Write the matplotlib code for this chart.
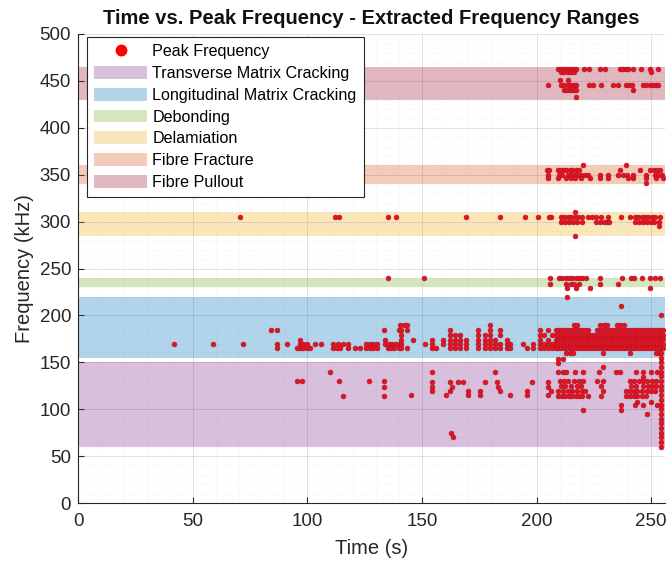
import numpy as np
import matplotlib
matplotlib.use("Agg")
import matplotlib.pyplot as plt
from matplotlib.patches import Patch
from matplotlib.lines import Line2D
from matplotlib.ticker import MultipleLocator

plt.rcParams["font.family"] = ["Liberation Sans", "DejaVu Sans"]

# frequency ranges (kHz) and their colours
band_names = ["Transverse Matrix Cracking", "Longitudinal Matrix Cracking", "Debonding",
              "Delamiation", "Fibre Fracture", "Fibre Pullout"]
band_lo = [60, 155, 230, 285, 340, 430]
band_hi = [150, 220, 240, 310, 360, 465]
band_colors = ["#7e2f8e", "#0072bd", "#77ac30", "#edb120", "#d95319", "#a2142f"]

# peak frequency hits, grouped by where they sit (time s, freq kHz)
pullout_t = [209.5, 210.8, 212.1, 213.4, 214.7, 216.0, 217.3, 220.6, 222.9, 227.6, 229.7, 236.3, 237.6,
             239.0, 239.9, 242.1, 245.7, 249.3, 253.0,
             210.5, 212.0, 213.5, 215.0, 216.5, 249.8,
             210.1, 213.7,
             205.0, 210.5, 212.0, 213.5, 215.0, 216.5, 217.4, 222.9, 224.6, 228.3, 233.4, 235.5, 239.0,
             240.4, 241.8, 246.4, 247.9, 249.3, 250.8, 252.2, 253.0,
             211.8, 213.2, 214.6, 216.0, 217.4, 242.1,
             217.4]
pullout_f = [463] * 19 + [459] * 6 + [451] * 2 + [446] * 21 + [440] * 6 + [433]

fracture_t = [220.3, 238.9,
              204.5, 205.5, 209.4, 210.6, 211.8, 213.0, 214.4, 215.6, 217.0, 218.5, 236.5, 245.0, 249.5,
              251.0, 252.5, 254.0,
              205.0, 209.8, 211.2, 213.6, 215.0, 216.5, 217.8, 219.5, 221.0, 222.5, 227.6, 231.2, 235.5,
              237.5, 239.5, 242.0, 247.9, 251.5, 253.0, 254.5,
              204.8, 209.4, 213.0, 214.8, 216.6, 219.5, 223.2, 227.5, 231.0, 240.0, 242.0, 247.5, 252.0,
              255.0,
              247.9]
fracture_f = [360] * 2 + [355] * 16 + [350] * 20 + [346] * 14 + [341]

delam_t = [70.6, 112.0, 113.8, 135.0, 138.6, 169.4, 184.0, 194.9, 200.7, 205.3, 206.5, 210.8, 212.0,
           213.5, 215.0, 216.7, 218.0, 219.6, 222.5, 224.0, 226.1, 228.3, 231.2, 237.0, 240.6, 242.8,
           244.3, 245.8, 247.3, 248.8, 250.3, 251.8, 253.7,
           216.7,
           210.8, 212.5, 214.3, 216.0, 217.8, 219.6, 226.1, 227.6, 229.2, 230.8, 231.7, 242.8, 244.5,
           246.2, 248.0, 249.7, 251.4, 253.2,
           253.2, 216.7]
delam_f = [305] * 33 + [310] + [300] * 18 + [295, 285]

debond_t = [135.0, 150.8, 205.8, 209.7, 211.2, 212.7, 214.1, 215.6, 217.1, 218.5, 220.0, 221.4, 227.6,
            237.2, 241.0, 242.5, 245.8, 249.3, 251.6, 253.7,
            205.8, 212.9, 215.0, 216.5, 218.5, 227.6, 235.5,
            213.4, 217.1, 223.3, 249.3,
            213.1, 236.6, 254.4]
debond_f = [240] * 20 + [234] * 7 + [229] * 4 + [220, 210, 200]

# longitudinal matrix cracking, sparse part before ~209 s
long_t = [84.1, 86.6, 133.5, 139.9, 140.5, 142.0, 143.5,
          96.8, 133.8,
          42.0, 58.7, 71.8, 86.6, 91.0, 96.8, 98.2, 99.7, 103.3, 105.8, 111.3, 113.5, 115.7, 117.8,
          125.8, 127.3, 128.8, 130.2, 133.8, 135.5, 137.0, 138.7, 140.4,
          86.6, 95.3, 96.8, 98.2, 99.7, 101.2, 111.3, 112.8, 114.3, 117.8, 120.7, 123.2, 125.8, 127.3,
          128.8, 130.2, 135.0, 136.5, 138.0, 140.0]
long_f = [184] * 4 + [190] * 3 + [174] * 2 + [169.5] * 23 + [165] * 20

# clusters 140-209 s, each a time with the stack of frequencies hit
clus_t = [141.0, 141.0, 141.0, 141.0, 141.0, 143.5, 143.5, 146.0,
          151.3, 154.2, 154.2, 154.2, 156.0, 159.2, 159.2,
          162.1, 162.1, 162.1, 162.1, 162.1, 164.3, 164.3, 164.3, 164.3,
          166.5, 166.5, 166.5, 166.5, 169.4, 169.4, 169.4,
          174.5, 174.5, 174.5, 174.5, 174.5, 177.4, 177.4, 177.4, 177.4,
          179.6, 179.6, 179.6, 179.6, 179.6, 179.6, 182.0, 182.0, 182.0, 184.0, 184.0, 184.0, 184.0,
          186.9, 186.9, 186.9, 188.3, 188.3,
          194.1, 196.0, 198.5, 198.5,
          201.4, 201.4, 201.4, 201.4, 201.4, 203.2, 203.2, 203.2, 205.0, 205.0, 205.0, 205.0,
          206.8, 206.8, 206.8, 208.6, 208.6, 208.6, 208.6, 208.6]
clus_f = [184, 179, 174, 169.5, 165, 184, 165, 174,
          169.5, 174, 169.5, 165, 165, 174, 169.5,
          184, 179, 174, 169.5, 165, 179, 174, 169.5, 165,
          179, 174, 169.5, 165, 174, 169.5, 165,
          184, 179, 174, 169.5, 165, 179, 174, 169.5, 165,
          190, 184, 179, 174, 169.5, 165, 174, 169.5, 165, 184, 179, 169.5, 165,
          174, 169.5, 165, 169.5, 165,
          169.5, 165, 169.5, 165,
          184, 179, 174, 169.5, 165, 179, 169.5, 165, 184, 174, 169.5, 165,
          179, 169.5, 165, 184, 179, 174, 169.5, 165]

# dense block after ~209 s, row by row
row190_t = [216.5, 217.5, 227.8, 229.2, 230.5, 235.2, 236.5, 238.0]
row184_t = [209.5, 210.8, 212.1, 213.4, 214.7, 216.0, 217.3, 218.6, 219.9, 221.2, 222.5, 226.4, 227.7,
            229.0, 230.3, 231.6, 232.9, 234.2, 235.5, 236.8, 238.1, 239.4, 240.7, 242.0, 243.3, 244.6,
            245.9, 247.2, 248.5, 249.8, 251.1, 252.4, 253.7, 255.0]
row179_t = [209.5, 210.8, 212.1, 213.4, 214.7, 216.0, 217.3, 218.6, 219.9, 221.2, 222.5, 223.8, 225.1,
            226.4, 227.7, 229.0, 230.3, 231.6, 232.9, 234.2, 235.5, 236.8, 238.1, 239.4, 240.7, 242.0,
            243.3, 244.6, 245.9, 247.2, 248.5, 249.8, 251.1, 252.4, 253.7, 255.0]
row174_t = [209.5, 210.8, 212.1, 213.4, 214.7, 216.0, 217.3, 218.6, 219.9, 221.2, 222.5, 223.8, 225.1,
            226.4, 227.7, 229.0, 230.3, 231.6, 232.9, 234.2, 235.5, 236.8, 238.1, 239.4, 240.7, 242.0,
            243.3, 244.6, 245.9, 247.2, 248.5, 249.8, 251.1, 252.4, 253.7, 255.0]
row169_t = [209.5, 210.8, 212.1, 213.4, 214.7, 216.0, 217.3, 218.6, 219.9, 221.2, 222.5, 223.8, 225.1,
            226.4, 227.7, 229.0, 230.3, 231.6, 232.9, 234.2, 235.5, 236.8, 238.1, 239.4, 240.7, 242.0,
            243.3, 244.6, 245.9, 247.2, 248.5, 249.8, 251.1, 252.4, 253.7, 255.0]
row165_t = [209.5, 210.8, 212.1, 213.4, 214.7, 216.0, 217.3, 218.6, 219.9, 221.2, 222.5, 223.8, 225.1,
            226.4, 227.7, 229.0, 230.3, 231.6, 232.9, 234.2, 235.5, 236.8, 238.1, 239.4, 240.7, 242.0,
            243.3, 244.6, 245.9, 247.2, 248.5, 249.8, 251.1, 252.4, 253.7, 255.0]
row160_t = [213.0, 214.5, 216.0, 229.0, 240.6, 252.0, 253.5]
dense_t = row190_t + row184_t + row179_t + row174_t + row169_t + row165_t + row160_t
dense_f = ([190] * len(row190_t) + [184.5] * len(row184_t) + [179.5] * len(row179_t)
           + [174.5] * len(row174_t) + [169.5] * len(row169_t) + [165] * len(row165_t)
           + [160] * len(row160_t))

# transverse matrix cracking region
trans_t = [109.8, 95.3, 97.5, 113.9, 127.0, 133.5, 133.5, 115.7, 133.5,
           154.3, 154.3, 154.3, 154.3, 145.4, 160.7, 162.1, 162.9, 162.1, 165.7, 167.9, 170.1, 170.1,
           175.2, 175.2, 177.4, 181.8, 182.6, 183.2, 184.0, 188.3, 195.6, 195.6, 197.8,
           205.0, 205.0, 206.5, 205.0, 162.6, 163.6,
           209.3, 211.5, 209.3, 228.9,
           209.3, 211.6, 213.0, 216.7, 220.3, 227.4, 234.6, 236.3, 243.5, 246.4, 250.0, 252.7, 246.3,
           210.0, 212.0, 213.5, 216.5, 218.6, 220.3, 226.4, 228.9, 240.6, 242.5, 244.5, 246.2, 248.3,
           250.5, 252.0,
           210.5, 212.5, 215.0, 217.5, 219.5, 228.3, 241.0, 243.5, 246.3, 248.5, 250.5, 252.0,
           209.3, 211.5, 213.5, 215.5, 217.5, 219.7, 221.0, 228.9, 238.9, 240.6, 242.5, 244.0, 246.1,
           248.0, 250.0, 251.8,
           209.3, 211.0, 212.5, 214.0, 215.5, 217.0, 218.5, 220.0, 222.5, 228.2, 238.9, 240.6, 242.3,
           244.0, 246.0, 247.5,
           244.0, 250.0, 236.7, 243.0, 246.5, 252.5, 220.4, 236.7, 248.0]
trans_f = [140, 130, 130, 130, 130, 130, 124, 114, 114,
           140, 129.3, 124, 119.8, 115, 115, 119.8, 124, 129.3, 129.3, 129.3, 119.8, 115,
           119.8, 115, 129.3, 140, 129.3, 124, 119.8, 115, 119.8, 115, 129.3,
           129.3, 124, 119.8, 115, 74.3, 70,
           154, 154, 149, 145,
           140, 140, 140, 140, 140, 140, 140, 140, 140, 140, 140, 140, 134.6,
           130, 130, 130, 130, 130, 130, 130, 130, 130, 130, 130, 130, 130, 130, 130,
           124.7, 124.7, 124.7, 124.7, 124.7, 124.7, 124.7, 124.7, 124.7, 124.7, 124.7, 124.7,
           119.8, 119.8, 119.8, 119.8, 119.8, 119.8, 119.8, 119.8, 119.8, 119.8, 119.8, 119.8, 119.8,
           119.8, 119.8, 119.8,
           114.4, 114.4, 114.4, 114.4, 114.4, 114.4, 114.4, 114.4, 114.4, 114.4, 114.4, 114.4, 114.4,
           114.4, 114.4, 114.4,
           108, 108, 104, 104, 104, 104, 99.6, 99.6, 94.6]

# last column at the end of the test
end_f = [160, 155, 150, 145, 140, 135, 130, 125, 120, 115, 110, 105, 100, 95, 90, 85, 80, 75, 70, 65, 60]
end_t = [254.4] * len(end_f)

all_t = pullout_t + fracture_t + delam_t + debond_t + long_t + clus_t + dense_t + trans_t + end_t
all_f = pullout_f + fracture_f + delam_f + debond_f + long_f + clus_f + dense_f + trans_f + end_f

fig = plt.figure(figsize=(6.68, 5.61), dpi=100)
ax = fig.add_axes([78/668, 58/561, 587/668, 469/561])

for lo, hi, c in zip(band_lo, band_hi, band_colors):
    ax.axhspan(lo, hi, color=c, alpha=0.3, lw=0, zorder=1)

ax.plot(all_t, all_f, "o", ms=3.5, mfc="#e4141e", mec="#b01028", mew=0.4, zorder=3)

ax.set_xlim(0, 256)
ax.set_ylim(0, 500)
ax.xaxis.set_major_locator(MultipleLocator(50))
ax.yaxis.set_major_locator(MultipleLocator(50))
ax.xaxis.set_minor_locator(MultipleLocator(10))
ax.yaxis.set_minor_locator(MultipleLocator(10))
ax.set_axisbelow(True)
ax.grid(which="major", color="#dadada", lw=0.6)
ax.grid(which="minor", color="#ebebeb", lw=0.5, ls=":")
ax.tick_params(which="major", direction="in", length=4, labelsize=13.5, colors="#262626")
ax.tick_params(axis="x", pad=7)
ax.tick_params(axis="y", pad=5)
ax.tick_params(which="minor", length=0)
for s in ["top", "right"]:
    ax.spines[s].set_visible(False)
for s in ["left", "bottom"]:
    ax.spines[s].set_color("#262626")
    ax.spines[s].set_linewidth(0.8)

ax.set_xlabel("Time (s)", fontsize=14.5, color="#262626", labelpad=7)
ax.set_ylabel("Frequency (kHz)", fontsize=14.5, color="#262626", labelpad=4)
ax.set_title("Time vs. Peak Frequency - Extracted Frequency Ranges", fontsize=14.5,
             fontweight="bold", color="#111111", pad=7)

handles = [Line2D([], [], ls="", marker="o", ms=7.5, mfc="red", mec="red", label="Peak Frequency")]
for n, c in zip(band_names, band_colors):
    handles.append(Patch(facecolor=c, alpha=0.3, lw=0, label=n))
leg = ax.legend(handles=handles, loc="upper left", bbox_to_anchor=(9/587, 1 - 3/469),
                borderaxespad=0, fontsize=11.6, frameon=True, fancybox=False,
                edgecolor="#262626", framealpha=1, handlelength=3.3, handleheight=0.85,
                handletextpad=0.3, labelspacing=0.42, borderpad=0.45)
leg.get_frame().set_linewidth(0.8)
leg.set_zorder(5)

fig.savefig("out.png", dpi=100)
